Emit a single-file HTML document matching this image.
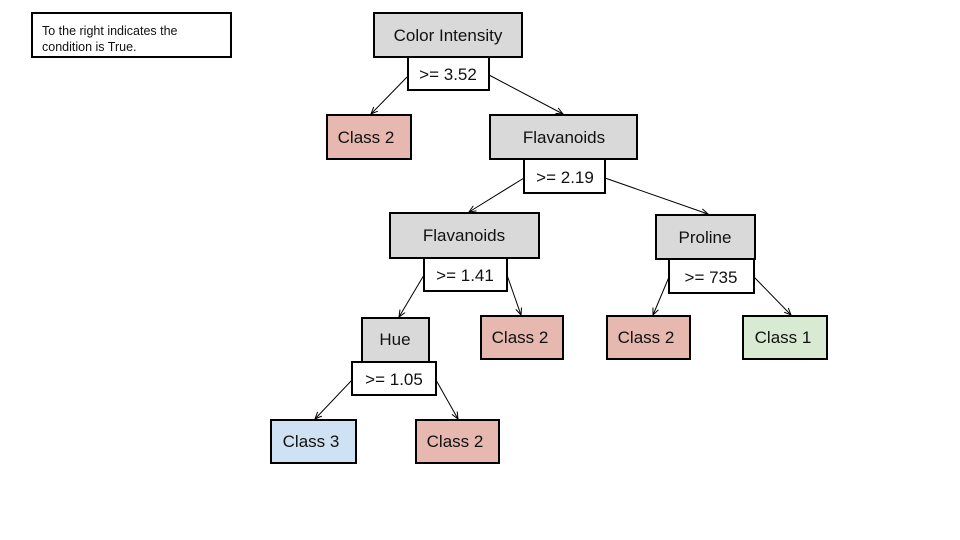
<!DOCTYPE html>
<html><head><meta charset="utf-8"><style>
html,body{margin:0;padding:0;background:#fff}
svg{display:block}
text{font-family:"Liberation Sans","DejaVu Sans",sans-serif;fill:#111}
</style></head><body>
<svg width="960" height="540" viewBox="0 0 960 540" xmlns="http://www.w3.org/2000/svg">
<defs><marker id="a" markerWidth="8" markerHeight="8" refX="7" refY="4" orient="auto" markerUnits="userSpaceOnUse"><path d="M0,1 L7,4 L0,7" fill="none" stroke="#000" stroke-width="1"/></marker></defs>
<g stroke="#000" stroke-width="2">
<rect x="32" y="13" width="199" height="44" fill="#fff"/>
<rect x="374" y="13" width="148" height="44" fill="#d9d9d9"/>
<rect x="408" y="57" width="81" height="33" fill="#fff"/>
<rect x="327" y="115" width="84" height="44" fill="#e6b8af"/>
<rect x="490" y="115" width="147" height="44" fill="#d9d9d9"/>
<rect x="524" y="159" width="81" height="34" fill="#fff"/>
<rect x="390" y="213" width="149" height="45" fill="#d9d9d9"/>
<rect x="424" y="258" width="83" height="33" fill="#fff"/>
<rect x="656" y="215" width="99" height="44" fill="#d9d9d9"/>
<rect x="669" y="259" width="85" height="34" fill="#fff"/>
<rect x="362" y="318" width="67" height="44" fill="#d9d9d9"/>
<rect x="352" y="362" width="84" height="33" fill="#fff"/>
<rect x="481" y="316" width="82" height="43" fill="#e6b8af"/>
<rect x="607" y="316" width="83" height="43" fill="#e6b8af"/>
<rect x="743" y="316" width="84" height="43" fill="#d9ead3"/>
<rect x="271" y="420" width="85" height="43" fill="#cfe2f3"/>
<rect x="416" y="420" width="83" height="43" fill="#e6b8af"/>
</g>
<g stroke="#000" stroke-width="1" marker-end="url(#a)">
<line x1="408" y1="76" x2="371" y2="114"/>
<line x1="489" y1="75" x2="563" y2="114"/>
<line x1="524" y1="178" x2="469" y2="212"/>
<line x1="605" y1="178" x2="708" y2="214"/>
<line x1="424" y1="275" x2="399" y2="317"/>
<line x1="507" y1="275" x2="521" y2="315"/>
<line x1="669" y1="277" x2="653" y2="315"/>
<line x1="754" y1="277" x2="791" y2="315"/>
<line x1="352" y1="380" x2="315" y2="419"/>
<line x1="436" y1="380" x2="458" y2="419"/>
</g>
<g font-size="12.5">
<text x="42" y="35">To the right indicates the</text>
<text x="42" y="51">condition is True.</text>
</g>
<g font-size="17" text-anchor="middle">
<text x="448" y="41">Color Intensity</text>
<text x="448" y="80">&gt;= 3.52</text>
<text x="366" y="143">Class 2</text>
<text x="564" y="143">Flavanoids</text>
<text x="565" y="183">&gt;= 2.19</text>
<text x="464" y="241">Flavanoids</text>
<text x="465" y="281">&gt;= 1.41</text>
<text x="705" y="243">Proline</text>
<text x="711" y="283">&gt;= 735</text>
<text x="395" y="345">Hue</text>
<text x="394" y="385">&gt;= 1.05</text>
<text x="520" y="343">Class 2</text>
<text x="646" y="343">Class 2</text>
<text x="783" y="343">Class 1</text>
<text x="311" y="447">Class 3</text>
<text x="455" y="447">Class 2</text>
</g>
</svg>
</body></html>
